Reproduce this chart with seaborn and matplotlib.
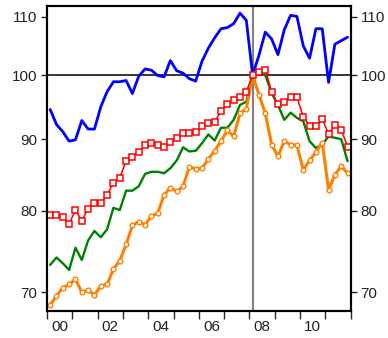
import numpy as np
import pandas as pd
import seaborn as sns
import matplotlib
matplotlib.use("Agg")
import matplotlib.pyplot as plt
from matplotlib.ticker import FixedLocator, FixedFormatter, NullLocator

# quarterly index values, 2000Q1 - 2011Q4 (2008Q1 = 100)
quarters = pd.period_range("2000Q1", "2011Q4", freq="Q")

blue = [94.5, 92.2, 91.1, 89.7, 89.9, 92.8, 91.5, 91.5, 94.9, 97.3,
        98.9, 98.9, 99.1, 97.0, 99.8, 101.0, 100.8, 99.9, 99.7, 102.4,
        100.7, 100.3, 99.4, 99.0, 102.3, 104.5, 106.3, 107.9, 108.1, 108.8,
        110.7, 109.4, 100.0, 103.3, 107.3, 106.1, 103.4, 107.7, 110.3, 110.1,
        104.9, 102.8, 107.9, 107.9, 98.8, 105.2, 105.8, 106.4]

green = [73.2, 74.1, 73.4, 72.6, 75.3, 73.8, 76.2, 77.4, 76.6, 77.6,
         80.4, 80.1, 82.7, 82.7, 83.3, 85.0, 85.3, 85.3, 85.1, 85.8,
         86.9, 88.8, 88.2, 88.3, 89.4, 90.7, 89.8, 91.7, 91.7, 92.9,
         95.2, 95.7, 100.0, 100.2, 100.0, 97.1, 95.2, 92.9, 94.0, 93.2,
         92.7, 89.7, 88.7, 89.2, 90.4, 90.2, 90.0, 86.8]

red = [79.4, 79.5, 79.2, 78.3, 80.1, 78.7, 80.3, 81.0, 81.0, 82.1,
       83.8, 84.5, 86.8, 87.4, 88.1, 89.1, 89.5, 89.1, 88.9, 89.6,
       90.2, 90.9, 90.9, 91.0, 91.9, 92.4, 92.6, 94.2, 95.3, 95.9,
       96.5, 97.3, 100.0, 100.5, 100.9, 97.3, 95.3, 95.6, 96.4, 96.4,
       93.4, 92.0, 91.9, 93.0, 90.8, 92.1, 91.4, 88.9]

orange = [68.5, 69.6, 70.5, 70.9, 71.5, 70.0, 70.2, 69.7, 70.7, 70.9,
          72.7, 73.7, 75.7, 78.1, 78.6, 78.2, 79.3, 79.7, 82.1, 83.1,
          82.6, 83.3, 86.0, 85.7, 85.8, 87.1, 88.3, 89.7, 91.3, 90.4,
          93.9, 94.6, 100.0, 96.8, 93.9, 89.2, 87.5, 89.7, 89.2, 89.1,
          85.6, 86.9, 88.1, 89.5, 82.8, 84.9, 86.1, 85.1]

yticks = [70, 80, 90, 100, 110]
year_labels = ["00", "02", "04", "06", "08", "10"]

df = pd.DataFrame({
    "date": quarters.year + (quarters.quarter - 0.5) / 4,
    "blue": blue, "green": green, "red": red, "orange": orange,
})

sns.set_theme(style="ticks")
plt.rcParams["font.family"] = ["Liberation Sans", "DejaVu Sans"]

fig = plt.figure(figsize=(3.88, 3.38), dpi=100)
ax = fig.add_axes([0.1211, 0.0808, 0.7828, 0.9014])

ax.axhline(100, color="black", lw=1.1, zorder=1)
ax.axvline(2008.125, color="#808080", lw=1.5, zorder=1)

sns.lineplot(data=df, x="date", y="blue", color="#0000ff", lw=2, ax=ax)
sns.lineplot(data=df, x="date", y="green", color="#008000", lw=1.7, ax=ax)
sns.lineplot(data=df, x="date", y="orange", color="#ff8000", lw=2.2, ax=ax,
             marker="o", markersize=3.4, markerfacecolor="white",
             markeredgecolor="#ff8000", markeredgewidth=1.0)
sns.lineplot(data=df, x="date", y="red", color="#ff0000", lw=1.1, ax=ax,
             marker="s", markersize=4.8, markerfacecolor="white",
             markeredgecolor="#ff0000", markeredgewidth=1.1)

ax.set_yscale("log")
ax.set_ylim(67.9, 112)
ax.set_xlim(2000, 2012)
ax.set_xlabel("")
ax.set_ylabel("")

ax.yaxis.set_major_locator(FixedLocator(yticks))
ax.yaxis.set_major_formatter(FixedFormatter([str(t) for t in yticks]))
ax.yaxis.set_minor_locator(NullLocator())

ax.xaxis.set_major_locator(FixedLocator(list(range(2000, 2013))))
ax.xaxis.set_major_formatter(FixedFormatter([""] * 13))
ax.xaxis.set_minor_locator(FixedLocator([2000.5 + 2 * k for k in range(6)]))
ax.xaxis.set_minor_formatter(FixedFormatter(year_labels))

ax.tick_params(axis="y", direction="out", length=4, width=1, labelsize=11,
               pad=3, colors="#222222")
ax.tick_params(axis="x", which="major", direction="out", length=6, width=1)
ax.tick_params(axis="x", which="minor", length=0, labelsize=11, pad=7,
               colors="#222222")

ax2 = ax.twinx()
ax2.set_yscale("log")
ax2.set_ylim(67.9, 112)
ax2.yaxis.set_major_locator(FixedLocator(yticks))
ax2.yaxis.set_major_formatter(FixedFormatter([str(t) for t in yticks]))
ax2.yaxis.set_minor_locator(NullLocator())
ax2.tick_params(axis="y", direction="out", length=4, width=1, labelsize=11,
                pad=3, colors="#222222")

for a in (ax, ax2):
    for s in a.spines.values():
        s.set_linewidth(1.5)
        s.set_color("black")

fig.savefig("out.png", dpi=100)
